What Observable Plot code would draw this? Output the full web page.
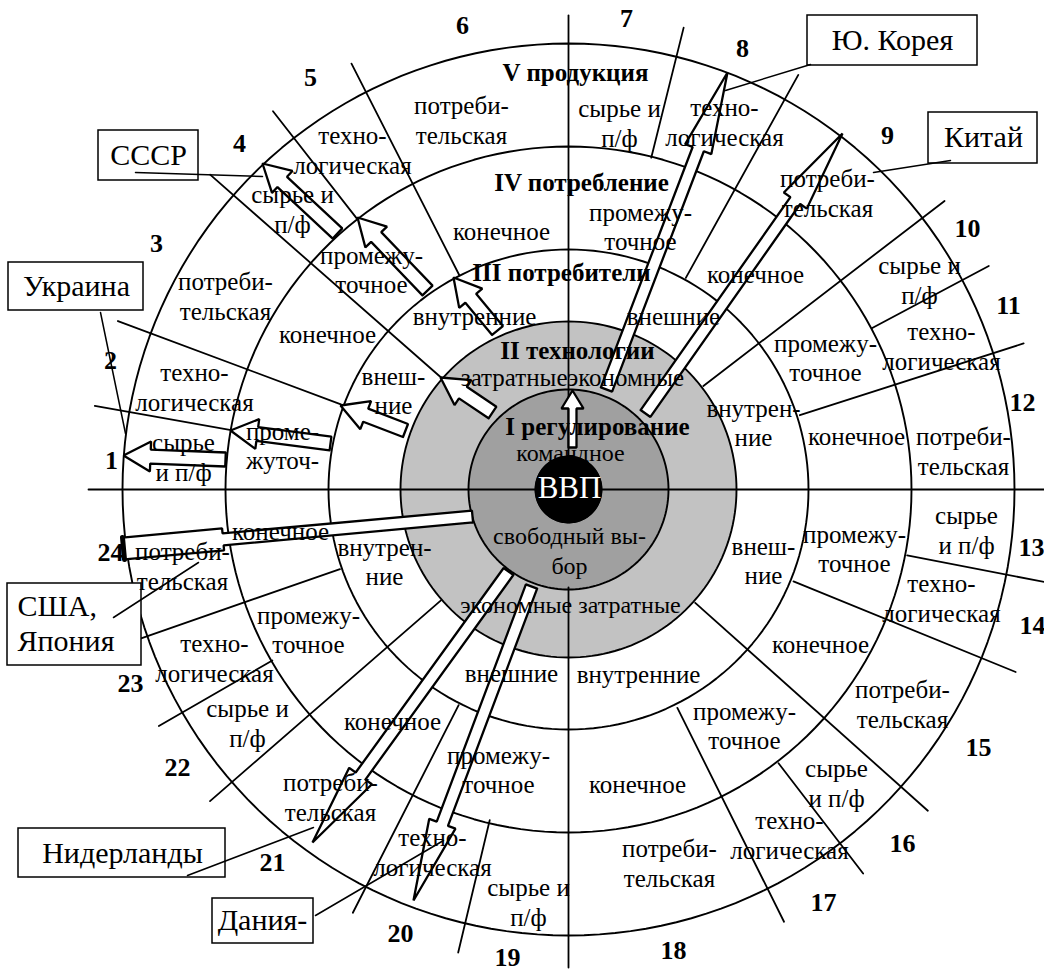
<!DOCTYPE html>
<html><head><meta charset="utf-8">
<script src="https://cdn.jsdelivr.net/npm/d3@7"></script>
<script src="https://cdn.jsdelivr.net/npm/@observablehq/plot@0.6"></script>
<style>body{margin:0;background:#fff}</style>
</head><body><div id="chart"></div>
<script>
// ---- ring radii (diagram units, centre = ВВП) ----
const ringRadii = [33, 100, 168, 240, 343, 446];
const shadeRadii = [168, 100];
const shadeColors = ["#c2c2c2", "#a0a0a0"];

// ---- sector divider lines: angle (deg), inner radius, outer radius ----
const divAngle = [170, 159.5, 138.7, 128, 117, 90, 76, 61, 37.5, 28, 17.8, 0, -11, -22.2, -41.8, -52.5, -63.5, -90, -103.4, -117, -139, -150, -160.8, 180];
const divInner = [344, 243, 170, 344, 241, 33, 342, 242, 170, 344, 243, 0, 345, 243, 170, 345, 244, 98, 340, 242, 169, 342, 242, 0];
const divOuter = [481, 481, 477, 480, 478, 474, 476, 474, 474, 476, 478, 476, 486, 483, 482, 484, 483, 478, 476, 475, 475, 473, 470, 480];

// ---- sector numbers 1..24 ----
const sectorNumbers = d3.range(1, 25).map(String);
const numX = [-457,-458,-412,-329,-258,-106,58,174,319,399,440,454,463,464,410,334,255,105,-61,-168,-296,-391,-438,-458];
const numY = [29,129,246,346,412,464,471,441,354,261,184,87,-58,-136,-258,-354,-413,-461,-468,-444,-373,-278,-194,-63];

// ---- ring V: продукция ----
const vText = ["сырье\nи п/ф","техно-\nлогическая","потреби-\nтельская","сырье и\nп/ф","техно-\nлогическая","потреби-\nтельская",
  "сырье и\nп/ф","техно-\nлогическая","потреби-\nтельская","сырье и\nп/ф","техно-\nлогическая","потреби-\nтельская",
  "сырье\nи п/ф","техно-\nлогическая","потреби-\nтельская","сырье\nи п/ф","техно-\nлогическая","потреби-\nтельская",
  "сырье и\nп/ф","техно-\nлогическая","потреби-\nтельская","сырье и\nп/ф","техно-\nлогическая","потреби-\nтельская"];
const vX = [-385,-374,-343,-276,-216,-107,51,156,259,351,373,395,398,373,334,268,221,101,-40,-136,-238,-321,-354,-386];
const vY = [33,103,194,281,340,370,367,368,297,210,144,39,-40,-108,-214,-293,-345,-373,-412,-362,-307,-233,-168,-76];

// ---- ring IV: потребление ----
const ivText = ["конечное","промежу-\nточное","конечное","проме-\nжуточ-","промежу-\nточное","конечное","промежу-\nточное","конечное",
  "промежу-\nточное","конечное","промежу-\nточное","конечное","промежу-\nточное","конечное","промежу-\nточное","конечное"];
const ivX = [-67,-197,-241,-286,72,187,257,288,286,252,176,69,-70,-176,-260,-288];
const ivY = [259,220,156,44,263,216,132,54,-59,-154,-236,-294,-280,-231,-140,-41];

// ---- ring III: потребители ----
const iiiText = ["внутренние","внешние","внеш-\nние","внутрен-\nние","внеш-\nние","внутрен-\nние","внешние","внутренние"];
const iiiX = [-94,105,-175,185,195,-184,-57,70];
const iiiY = [174,174,99,67,-71,-72,-183,-184];

// ---- inner labels (rings II, I, centre) ----
const innerText = ["экономные затратные","командное","свободный вы-\nбор"];
const innerX = [2, 2, 1];
const innerY = [-114, 38, -60];
const titleText = ["V продукция","IV потребление","III потребители","II технологии","I регулирование"];
const titleX = [7, 13, -7, 9, 29];
const titleY = [417, 307, 217, 139, 63];

// ---- arrows: tail -> tip ----
const arrowTailX = [-163,-238,-343,-76,-71,-141,-231,4,38,77,-96,-60,-37];
const arrowTailY = [59,46,30,77,159,199,256,42,100,76,-27,-82,-97];
const arrowTipX  = [-228,-338,-445,-128,-115,-211,-306,4,159,274,-445,-256,-155];
const arrowTipY  = [84,59,34,112,212,272,326,99,417,356,-59,-353,-411];
const arrowKind  = ["short","short","short","short","short","short","short","small","long","long","box","long","long"];

// ---- country boxes ----
const boxText = ["СССР","Украина","Ю. Корея","Китай","США,\nЯпония","Нидерланды","Дания-"];
const boxX1 = [-470,-560,239,360,-561,-550,-356];
const boxX2 = [-370,-425,409,469,-427,-343,-255];
const boxY1 = [359,227,474,377,-94,-339,-409];
const boxY2 = [309,179,424,326,-176,-388,-454];
const boxTx = [-420,-492,324,415,-551,-446,-306];
const boxTy = [334,203,449,352,-133,-364,-431];
const boxAnchor = ["middle","middle","middle","middle","start","middle","middle"];
// leader lines from boxes
const leadX1 = [-433,-468,242,382,-455,-381,-253];
const leadY1 = [317,177,425,329,-128,-386,-426];
const leadX2 = [-306,-443,157,305,-370,-255,-125];
const leadY2 = [313,56,399,317,-73,-338,-351];

// ---------- geometry helpers ----------
const rad = a => a * Math.PI / 180;
const circlePts = (r, id) => d3.range(0, 361, 2).map(a => ({id, x: r * Math.cos(rad(a)), y: r * Math.sin(rad(a))}));
const circles = ringRadii.flatMap((r, i) => circlePts(r, i));
const shades = shadeRadii.flatMap((r, i) => circlePts(r, "s" + i));

const dividers = divAngle.flatMap((a, i) => [
  {id: i, x: divInner[i] * Math.cos(rad(a)), y: divInner[i] * Math.sin(rad(a))},
  {id: i, x: divOuter[i] * Math.cos(rad(a)), y: divOuter[i] * Math.sin(rad(a))}
]);

const arrowSpec = {short: [7, 15, 27], small: [4, 11, 18], long: [6, 14, 82], box: [6, 11, 100]};
const arrows = arrowKind.flatMap((k, i) => {
  const tx = arrowTailX[i], ty = arrowTailY[i], px = arrowTipX[i], py = arrowTipY[i];
  const L = Math.hypot(px - tx, py - ty), ux = (px - tx) / L, uy = (py - ty) / L, nx = -uy, ny = ux;
  const [w, hw, hl] = arrowSpec[k];
  const bx = px - ux * hl, by = py - uy * hl;
  const P = (x, y) => ({id: i, x, y});
  let pts;
  if (k === "box") {
    pts = [P(tx + nx*w, ty + ny*w), P(bx + nx*w, by + ny*w), P(bx + nx*hw, by + ny*hw), P(px + nx*hw, py + ny*hw),
           P(px - nx*hw, py - ny*hw), P(bx - nx*hw, by - ny*hw), P(bx - nx*w, by - ny*w), P(tx - nx*w, ty - ny*w)];
  } else {
    pts = [P(tx + nx*w, ty + ny*w), P(bx + nx*w, by + ny*w), P(bx + nx*hw, by + ny*hw), P(px, py),
           P(bx - nx*hw, by - ny*hw), P(bx - nx*w, by - ny*w), P(tx - nx*w, ty - ny*w)];
  }
  pts.push({...pts[0]});
  return pts;
});
// thick flat end of the box-type arrow
const boxEnds = arrowKind.flatMap((k, i) => {
  if (k !== "box") return [];
  const tx = arrowTailX[i], ty = arrowTailY[i], px = arrowTipX[i], py = arrowTipY[i];
  const L = Math.hypot(px - tx, py - ty), nx = -(py - ty) / L, ny = (px - tx) / L;
  const hw = arrowSpec[k][1];
  return [{id: i, x: px + nx*hw, y: py + ny*hw}, {id: i, x: px - nx*hw, y: py - ny*hw}];
});

const leaders = leadX1.flatMap((x, i) => [{id: i, x, y: leadY1[i]}, {id: i, x: leadX2[i], y: leadY2[i]}]);

const tab = (t, xs, ys) => t.map((text, i) => ({text, x: xs[i], y: ys[i]}));
const font = "'Liberation Serif', 'Times New Roman', serif";
const T = {fontFamily: font, fill: "black"};

const boxLabels = boxText.map((t, i) => ({t, x: boxTx[i], y: boxTy[i], a: boxAnchor[i]}));

const chart = Plot.plot({
  width: 1044, height: 974, margin: 0,
  x: {domain: [-568, 476], axis: null},
  y: {domain: [-485, 489], axis: null},
  color: {type: "ordinal", domain: ["s0", "s1"], range: shadeColors},
  style: {background: "white", fontFamily: font},
  marks: [
    Plot.line(shades, {x: "x", y: "y", z: "id", fill: d => d.id, stroke: "none"}),
    Plot.line(circles, {x: "x", y: "y", z: "id", stroke: "black", strokeWidth: 1.9}),
    Plot.line(dividers, {x: "x", y: "y", z: "id", stroke: "black", strokeWidth: 1.8}),
    Plot.line(circlePts(ringRadii[0], "c"), {x: "x", y: "y", fill: "black", stroke: "black"}),
    Plot.line(arrows, {x: "x", y: "y", z: "id", fill: "white", stroke: "black", strokeWidth: 2.3, strokeLinejoin: "miter"}),
    Plot.line(boxEnds, {x: "x", y: "y", z: "id", stroke: "black", strokeWidth: 5}),
    Plot.rect(tab(boxText, boxX1, boxY1).map((d, i) => ({...d, x2: boxX2[i], y2: boxY2[i]})),
      {x1: "x", x2: "x2", y1: "y", y2: "y2", fill: "white", stroke: "black", strokeWidth: 1.5}),
    Plot.line(leaders, {x: "x", y: "y", z: "id", stroke: "black", strokeWidth: 1.5}),
    Plot.text(tab(vText, vX, vY), {x: "x", y: "y", text: "text", fontSize: 25, lineHeight: 1.2, ...T}),
    Plot.text(tab(ivText, ivX, ivY), {x: "x", y: "y", text: "text", fontSize: 25, lineHeight: 1.15, ...T}),
    Plot.text(tab(iiiText, iiiX, iiiY), {x: "x", y: "y", text: "text", fontSize: 25, lineHeight: 1.15, ...T}),
    Plot.text(tab(innerText, innerX, innerY), {x: "x", y: "y", text: "text", fontSize: 24, lineHeight: 1.25, ...T}),
    Plot.text([{t: "затратные", x: -1, y: 112}], {x: "x", y: "y", text: "t", fontSize: 25, textAnchor: "end", ...T}),
    Plot.text([{t: "экономные", x: -1, y: 112}], {x: "x", y: "y", text: "t", fontSize: 25, textAnchor: "start", ...T}),
    Plot.text(tab(titleText, titleX, titleY), {x: "x", y: "y", text: "text", fontSize: 25, fontWeight: "bold", ...T}),
    Plot.text([{t: "ВВП", x: 1, y: 1}], {x: "x", y: "y", text: "t", fontSize: 31, fontFamily: font, fill: "white"}),
    Plot.text(tab(sectorNumbers, numX, numY), {x: "x", y: "y", text: "text", fontSize: 26, fontWeight: "bold", ...T}),
    Plot.text(boxLabels.filter(d => d.a === "middle"), {x: "x", y: "y", text: "t", fontSize: 30, ...T}),
    Plot.text(boxLabels.filter(d => d.a === "start"), {x: "x", y: "y", text: "t", fontSize: 30, lineHeight: 1.15, textAnchor: "start", ...T})
  ]
});

document.getElementById("chart").appendChild(chart);
</script></body></html>
